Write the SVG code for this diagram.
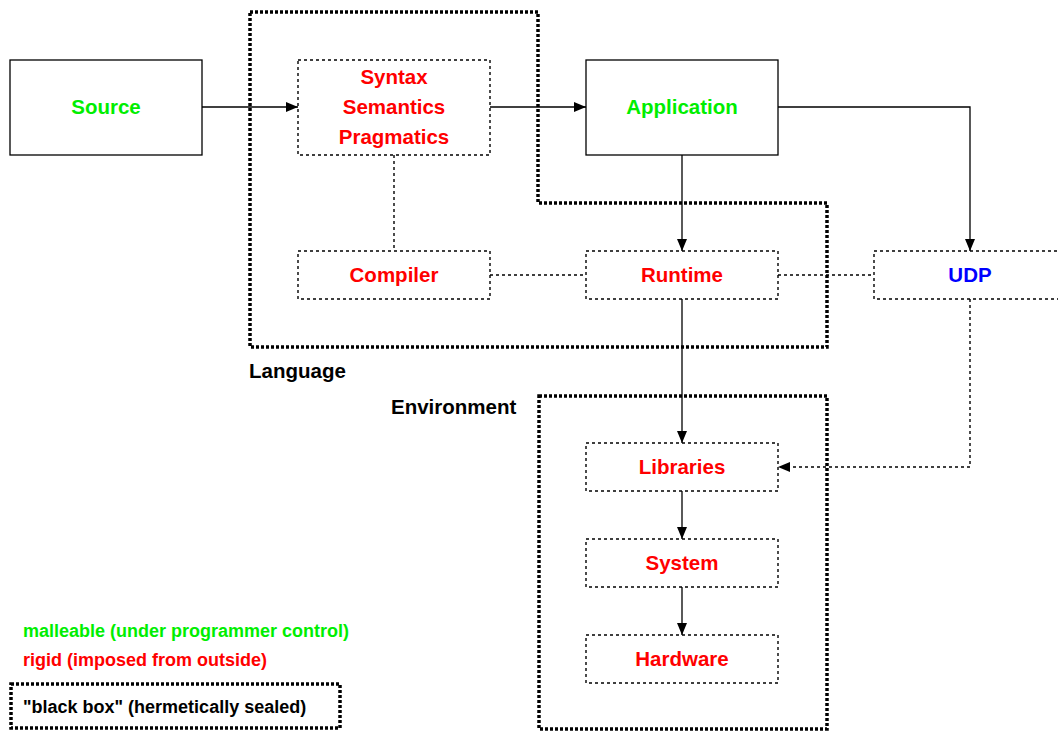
<svg xmlns="http://www.w3.org/2000/svg" width="1058" height="731" viewBox="0 0 1058 731">
<style>
text{font-family:"Liberation Sans",Arial,sans-serif;font-weight:bold;font-size:20.5px;text-anchor:middle}
.g{fill:#00ee00}.r{fill:#ff0000}.b{fill:#0000ff}.k{fill:#000}
.solid{fill:#fff;stroke:#000;stroke-width:1.3}
.dot{fill:#fff;stroke:#000;stroke-width:1.4;stroke-dasharray:3 3}
.box{fill:none;stroke:#000;stroke-width:3.5;stroke-dasharray:3 2}
.c{fill:none;stroke:#000;stroke-width:1.3}
.cd{fill:none;stroke:#000;stroke-width:1.4;stroke-dasharray:3 3}
.leg{font-size:18px;text-anchor:start}
.lbl{text-anchor:start;font-size:20.5px}
</style>
<defs>
<marker id="ah" markerWidth="12" markerHeight="10" refX="12" refY="5" orient="auto" markerUnits="userSpaceOnUse">
<path d="M0,0 L12,5 L0,10 Z" fill="#000"/>
</marker>
</defs>
<g id="language-box">
<path class="box" d="M250,12 H538 V203 H827 V347 H250 Z"/>
<text class="lbl k" x="249" y="378">Language</text>
</g>
<g id="environment-box">
<rect class="box" x="539" y="396" width="288" height="333"/>
<text class="lbl k" x="391" y="414">Environment</text>
</g>
<g id="connectors">
<path class="c" d="M202,107 H298" marker-end="url(#ah)"/>
<path class="c" d="M490,107 H586" marker-end="url(#ah)"/>
<path class="c" d="M778,107 H970 V251" marker-end="url(#ah)"/>
<path class="c" d="M682,155 V251" marker-end="url(#ah)"/>
<path class="cd" d="M394,155 V251"/>
<path class="cd" d="M490,275 H586"/>
<path class="cd" d="M778,275 H874"/>
<path class="c" d="M682,299 V443" marker-end="url(#ah)"/>
<path class="cd" d="M970,299 V467 H778" marker-end="url(#ah)"/>
<path class="c" d="M682,491 V539" marker-end="url(#ah)"/>
<path class="c" d="M682,587 V635" marker-end="url(#ah)"/>
</g>
<g id="source"><rect class="solid" x="10" y="60" width="192" height="95"/><text class="g" x="106" y="114">Source</text></g>
<g id="ssp"><rect class="dot" x="298" y="60" width="192" height="95"/>
<text class="r" x="394" y="84">Syntax</text><text class="r" x="394" y="114">Semantics</text><text class="r" x="394" y="144">Pragmatics</text></g>
<g id="application"><rect class="solid" x="586" y="60" width="192" height="95"/><text class="g" x="682" y="114">Application</text></g>
<g id="compiler"><rect class="dot" x="298" y="251" width="192" height="48"/><text class="r" x="394" y="282">Compiler</text></g>
<g id="runtime"><rect class="dot" x="586" y="251" width="192" height="48"/><text class="r" x="682" y="282">Runtime</text></g>
<g id="udp"><rect class="dot" x="874" y="251" width="192" height="48"/><text class="b" x="970" y="282">UDP</text></g>
<g id="libraries"><rect class="dot" x="586" y="443" width="192" height="48"/><text class="r" x="682" y="474">Libraries</text></g>
<g id="system"><rect class="dot" x="586" y="539" width="192" height="48"/><text class="r" x="682" y="570">System</text></g>
<g id="hardware"><rect class="dot" x="586" y="635" width="192" height="48"/><text class="r" x="682" y="666">Hardware</text></g>
<g id="legend">
<text class="leg g" x="23" y="637">malleable (under programmer control)</text>
<text class="leg r" x="23" y="666">rigid (imposed from outside)</text>
<rect class="box" x="11" y="684" width="329" height="44"/>
<text class="leg k" x="23" y="713">"black box" (hermetically sealed)</text>
</g>
</svg>
